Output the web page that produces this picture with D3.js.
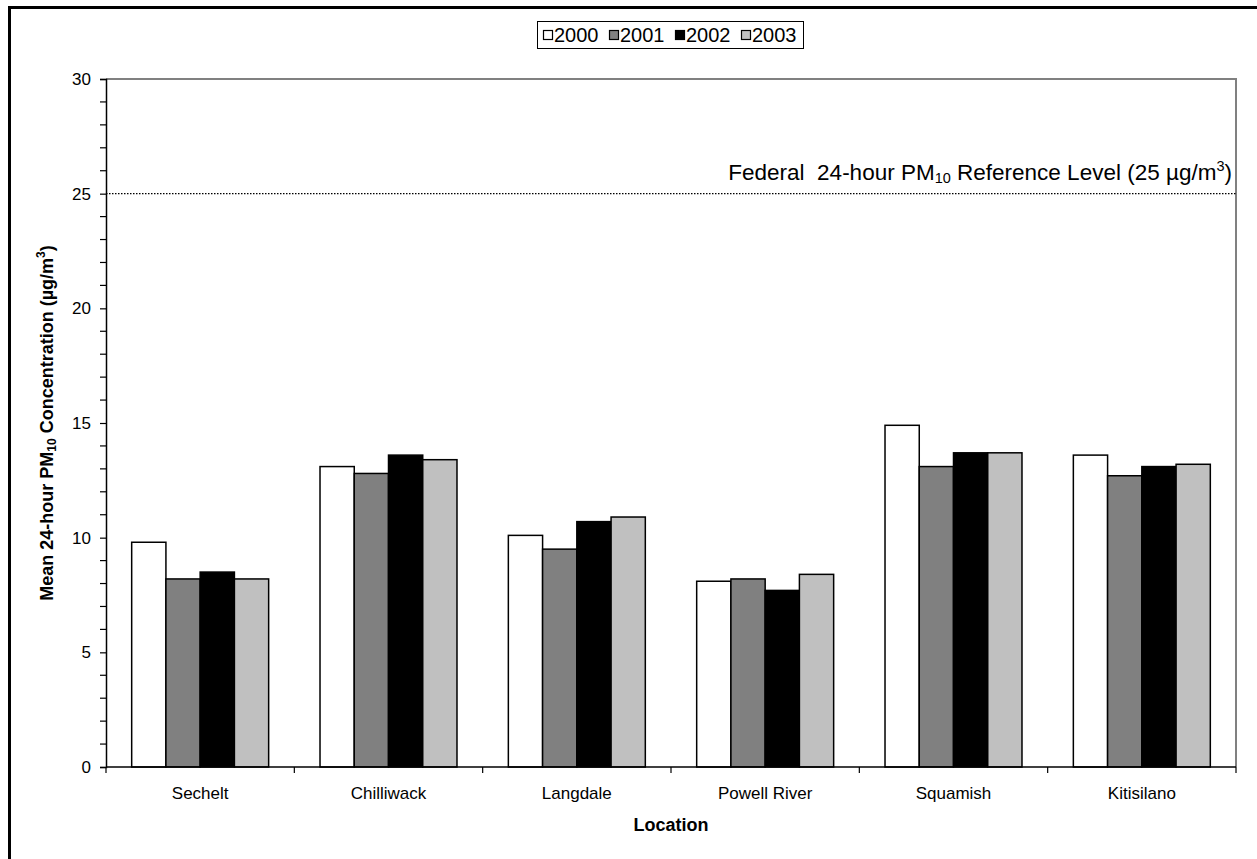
<!DOCTYPE html>
<html>
<head>
<meta charset="utf-8">
<script src="https://cdn.jsdelivr.net/npm/d3@7"></script>
<style>
  html, body { margin: 0; padding: 0; background: #fff; }
  svg { display: block; font-family: Arial, "Liberation Sans", sans-serif; }
</style>
</head>
<body>
<svg id="chart" width="1257" height="859"></svg>
<script>
// ---- data ----
const categories = ["Sechelt", "Chilliwack", "Langdale", "Powell River", "Squamish", "Kitisilano"];
const years = ["2000", "2001", "2002", "2003"];
const values2000 = [9.8, 13.1, 10.1, 8.1, 14.9, 13.6];
const values2001 = [8.2, 12.8, 9.5, 8.2, 13.1, 12.7];
const values2002 = [8.5, 13.6, 10.7, 7.7, 13.7, 13.1];
const values2003 = [8.2, 13.4, 10.9, 8.4, 13.7, 13.2];
const yTicks = [0, 5, 10, 15, 20, 25, 30];
const referenceLevel = 25;

const seriesValues = [values2000, values2001, values2002, values2003];
const colors = ["#ffffff", "#808080", "#000000", "#c0c0c0"];

const svg = d3.select("#chart");

// outer frame
svg.append("rect")
  .attr("x", 9.5).attr("y", 7.5)
  .attr("width", 1300).attr("height", 900)
  .attr("fill", "none").attr("stroke", "#000").attr("stroke-width", 3);

const pLeft = 106, pRight = 1236, pTop = 79, pBottom = 767;

const x0 = d3.scaleBand().domain(categories).range([pLeft, pRight]).padding(0);
const step = x0.bandwidth();
const gap = step * 1.5 / 5.5;
const x1 = d3.scaleBand().domain(years).range([gap / 2, step - gap / 2]).padding(0);
const y = d3.scaleLinear().domain([0, 30]).range([pBottom, pTop]);

// plot area border (top and right, gray)
svg.append("path")
  .attr("d", `M${pLeft},${pTop}H${pRight}V${pBottom}`)
  .attr("fill", "none").attr("stroke", "#808080").attr("stroke-width", 2);

// reference line
svg.append("line")
  .attr("x1", pLeft).attr("x2", pRight)
  .attr("y1", y(referenceLevel)).attr("y2", y(referenceLevel))
  .attr("stroke", "#000").attr("stroke-width", 1.2)
  .attr("stroke-dasharray", "1.5,1.5");

const refText = svg.append("text")
  .attr("x", 1232).attr("y", 180)
  .attr("text-anchor", "end")
  .attr("font-size", 22.5).attr("fill", "#000")
  .attr("xml:space", "preserve");
refText.append("tspan").text("Federal  24-hour PM");
refText.append("tspan").attr("font-size", 14.5).attr("dy", 3).text("10");
refText.append("tspan").attr("dy", -3).text(" Reference Level (25 µg/m");
refText.append("tspan").attr("font-size", 14.5).attr("dy", -9).text("3");
refText.append("tspan").attr("dy", 9).text(")");

// bars
const groups = svg.append("g").selectAll("g")
  .data(categories)
  .join("g")
  .attr("transform", d => `translate(${x0(d)},0)`);

groups.selectAll("rect")
  .data((c, ci) => years.map((yr, si) => ({ yr, si, v: seriesValues[si][ci] })))
  .join("rect")
  .attr("x", d => x1(d.yr))
  .attr("width", x1.bandwidth())
  .attr("y", d => y(d.v))
  .attr("height", d => y(0) - y(d.v))
  .attr("fill", d => colors[d.si])
  .attr("stroke", "#000").attr("stroke-width", 1.5);

// y axis
const yAxis = d3.axisLeft(y).tickValues(yTicks).tickSize(6).tickPadding(9).tickFormat(d3.format("d"));
const gy = svg.append("g").attr("transform", `translate(${pLeft},0)`).call(yAxis);
gy.select(".domain").attr("stroke", "#000").attr("stroke-width", 1.5);
gy.selectAll(".tick line").attr("stroke", "#000").attr("stroke-width", 1.2);
gy.selectAll(".tick text").attr("font-size", 17).attr("font-family", "Arial, 'Liberation Sans', sans-serif").attr("fill", "#000");

// minor ticks
const minor = d3.range(0, 31).filter(v => v % 5 !== 0);
svg.append("g").selectAll("line")
  .data(minor).join("line")
  .attr("x1", pLeft - 6).attr("x2", pLeft)
  .attr("y1", d => y(d)).attr("y2", d => y(d))
  .attr("stroke", "#000").attr("stroke-width", 1.2);

// x axis
svg.append("line")
  .attr("x1", pLeft).attr("x2", pRight)
  .attr("y1", pBottom).attr("y2", pBottom)
  .attr("stroke", "#000").attr("stroke-width", 1.5);
const boundaries = categories.map(c => x0(c)).concat([pRight]);
svg.append("g").selectAll("line")
  .data(boundaries).join("line")
  .attr("x1", d => d).attr("x2", d => d)
  .attr("y1", pBottom).attr("y2", pBottom + 6)
  .attr("stroke", "#000").attr("stroke-width", 1.2);

svg.append("g").selectAll("text")
  .data(categories).join("text")
  .attr("x", d => x0(d) + step / 2)
  .attr("y", 799)
  .attr("text-anchor", "middle")
  .attr("font-size", 17).attr("fill", "#000")
  .text(d => d);

// axis titles
svg.append("text")
  .attr("x", (pLeft + pRight) / 2).attr("y", 831)
  .attr("text-anchor", "middle")
  .attr("font-size", 18).attr("font-weight", "bold")
  .text("Location");

const yt = svg.append("text")
  .attr("transform", `translate(53,${(pTop + pBottom) / 2}) rotate(-90)`)
  .attr("text-anchor", "middle")
  .attr("font-size", 18).attr("font-weight", "bold");
yt.append("tspan").text("Mean 24-hour PM");
yt.append("tspan").attr("font-size", 12).attr("dy", 3).text("10");
yt.append("tspan").attr("dy", -3).text(" Concentration (µg/m");
yt.append("tspan").attr("font-size", 12).attr("dy", -8).text("3");
yt.append("tspan").attr("dy", 8).text(")");

// legend
const legend = svg.append("g");
legend.append("rect")
  .attr("x", 537.5).attr("y", 21.5).attr("width", 266).attr("height", 27)
  .attr("fill", "#fff").attr("stroke", "#000").attr("stroke-width", 1);
const lx = d3.scaleBand().domain(years).range([542, 806]).padding(0);
const items = legend.selectAll("g.item").data(years).join("g").attr("class", "item")
  .attr("transform", d => `translate(${lx(d)},0)`);
items.append("rect")
  .attr("x", 1.5).attr("y", 30.5).attr("width", 9).attr("height", 9)
  .attr("fill", (d, i) => colors[i]).attr("stroke", "#000").attr("stroke-width", 1.2);
items.append("text")
  .attr("x", 12).attr("y", 42)
  .attr("font-size", 20).attr("fill", "#000")
  .text(d => d);
</script>
</body>
</html>
